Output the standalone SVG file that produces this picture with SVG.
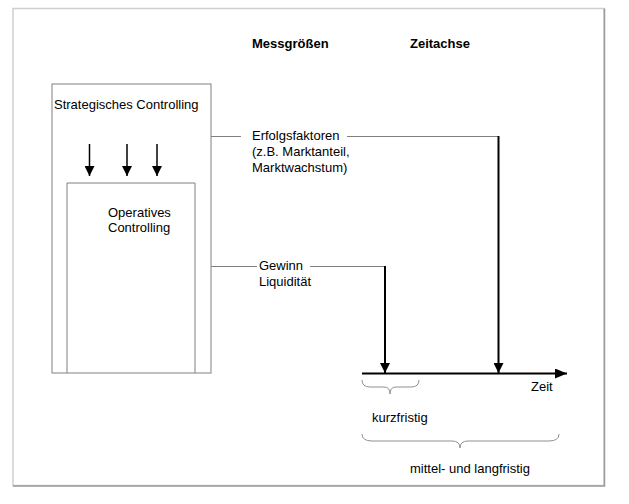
<svg xmlns="http://www.w3.org/2000/svg" width="629" height="504" viewBox="0 0 629 504">
<defs>
<style>
text{font-family:"Liberation Sans",Arial,sans-serif;font-size:13px;fill:#000}
.b{font-weight:bold}
.box{fill:none;stroke:#808080;stroke-width:1}
.thin{fill:none;stroke:#808080;stroke-width:1}
.thick{fill:none;stroke:#000;stroke-width:2}
.arr{fill:none;stroke:#000;stroke-width:1.5}
.brace{fill:none;stroke:#909090;stroke-width:1}
</style>
<marker id="ah" viewBox="0 0 10 10" refX="10" refY="5" markerWidth="10" markerHeight="10" markerUnits="userSpaceOnUse" orient="auto">
<path d="M0,0 L10,5 L0,10 z" fill="#000"/>
</marker>
<marker id="ah2" viewBox="0 0 12 10" refX="12" refY="5" markerWidth="12" markerHeight="10" markerUnits="userSpaceOnUse" orient="auto">
<path d="M0,0 L12,5 L0,10 z" fill="#000"/>
</marker>
</defs>
<rect width="629" height="504" fill="#fff"/>
<g id="frame">
<rect x="13" y="8.5" width="591" height="477" fill="none" stroke="#cfcfcf" stroke-width="1.5"/>
<path d="M13,486 H604.5 V8.5" fill="none" stroke="#9a9a9a" stroke-width="1.5"/>
</g>
<g id="headers">
<text class="b" x="252" y="48">Messgrößen</text>
<text class="b" x="410" y="48">Zeitachse</text>
</g>
<g id="strategisch">
<rect class="box" x="52" y="84" width="159" height="289"/>
<text x="54" y="109">Strategisches Controlling</text>
</g>
<g id="operativ">
<path class="box" d="M67,373 V183 H195 V373"/>
<text x="108" y="217">Operatives</text>
<text x="108" y="232">Controlling</text>
</g>
<g id="erfolgsfaktoren">
<text x="252" y="140">Erfolgsfaktoren</text>
<text x="252" y="156">(z.B. Marktanteil,</text>
<text x="252" y="172">Marktwachstum)</text>
</g>
<g id="gewinn">
<text x="259" y="270">Gewinn</text>
<text x="259" y="286">Liquidität</text>
</g>
<g id="zeit">
<text x="531" y="391">Zeit</text>
</g>
<g id="kurzfristig">
<path class="brace" d="M362,380 Q362,387 370,387 L384,387 Q390,387 390,394 Q390,387 396,387 L411,387 Q419,387 419,380"/>
<text x="372" y="422">kurzfristig</text>
</g>
<g id="langfristig">
<path class="brace" d="M362,434 Q362,441 372,441 L452,441 Q460,441 460,448 Q460,441 468,441 L549,441 Q559,441 559,434"/>
<text x="410" y="473">mittel- und langfristig</text>
</g>
<g id="connectors">
<line class="arr" x1="89.5" y1="144" x2="89.5" y2="176" marker-end="url(#ah)"/>
<line class="arr" x1="127" y1="144" x2="127" y2="176" marker-end="url(#ah)"/>
<line class="arr" x1="157" y1="144" x2="157" y2="176" marker-end="url(#ah)"/>
<line class="thin" x1="211" y1="136.5" x2="241" y2="136.5"/>
<path class="thin" d="M347,136.5 H498"/>
<line class="thick" x1="498.5" y1="136" x2="498.5" y2="373" marker-end="url(#ah)"/>
<line class="thin" x1="211" y1="266.5" x2="257" y2="266.5"/>
<path class="thin" d="M310,266.5 H385"/>
<line class="thick" x1="385" y1="266" x2="385" y2="373" marker-end="url(#ah)"/>
<line class="thick" x1="362" y1="373.5" x2="567" y2="373.5" marker-end="url(#ah2)"/>
</g>
</svg>
